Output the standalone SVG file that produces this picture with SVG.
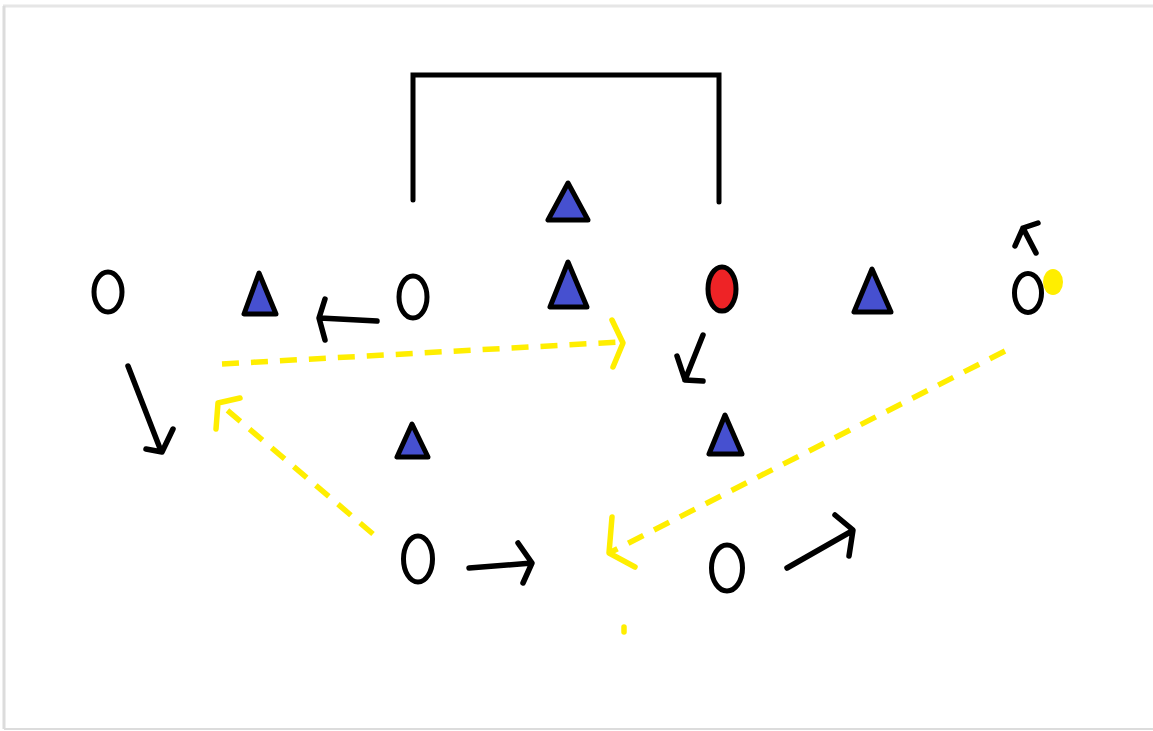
<svg xmlns="http://www.w3.org/2000/svg" width="1153" height="731" viewBox="0 0 1153 731">
<style>
.tri{fill:#4650d0;stroke:#000;stroke-width:5;stroke-linejoin:round}
.ply{fill:#fff;stroke:#000;stroke-width:5}
.red{fill:#ee2326;stroke:#000;stroke-width:5}
.mv{fill:none;stroke:#000;stroke-width:5.5;stroke-linecap:round;stroke-linejoin:round}
.ps{fill:none;stroke:#ffee00;stroke-width:5.5;stroke-dasharray:17 12}
.ph{fill:none;stroke:#ffee00;stroke-width:5.5;stroke-linecap:round;stroke-linejoin:round}
.goal{fill:none;stroke:#000;stroke-width:5;stroke-linecap:round}
</style>
<rect width="1153" height="731" fill="#fff"/>
<g id="frame">
<line x1="3" y1="6" x2="1153" y2="6" stroke="#e6e6e6" stroke-width="3"/>
<line x1="4" y1="6" x2="4" y2="729" stroke="#dcdcdc" stroke-width="3"/>
<line x1="4" y1="729" x2="1153" y2="729" stroke="#dcdcdc" stroke-width="2"/>
</g>
<g id="goal"><polyline class="goal" points="413,200 413,75 719,75 719,202"/></g>
<g id="t1"><polygon class="tri" points="568,183 548,220 588,220"/></g>
<g id="t2"><polygon class="tri" points="568,262 550,307 587,307"/></g>
<g id="t3"><polygon class="tri" points="259,273 244,314 276,314"/></g>
<g id="t4"><polygon class="tri" points="412,424 397,457 428,457"/></g>
<g id="t5"><polygon class="tri" points="725,415 709,454 742,454"/></g>
<g id="t6"><polygon class="tri" points="872,269 854,312 891,312"/></g>
<g id="o1"><ellipse class="ply" cx="108" cy="292" rx="14" ry="20"/></g>
<g id="o2"><ellipse class="ply" cx="413" cy="297" rx="14" ry="21"/></g>
<g id="red"><ellipse class="red" cx="722" cy="289" rx="14" ry="22"/></g>
<g id="ball"><ellipse cx="1053" cy="282" rx="10" ry="13" fill="#ffee00"/></g>
<g id="o3"><ellipse class="ply" cx="1028" cy="293" rx="13.5" ry="19.5"/></g>
<g id="o4"><ellipse class="ply" cx="418" cy="559" rx="14.5" ry="23"/></g>
<g id="o5"><ellipse class="ply" cx="727" cy="568" rx="15.5" ry="23"/></g>
<g id="connectors">
<path class="mv" d="M377,321 L320,318 M325,299 L319,318 L325,340"/>
<path class="mv" d="M128,366 L161,451 M173,429 L162,452 L146,449"/>
<path class="mv" d="M703,335 L685,380 M677,356 L685,380 L703,381"/>
<path class="mv" d="M1036,253 L1023,228 M1015,246 L1023,228 L1038,223"/>
<path class="mv" d="M469,568 L532,563 M518,543 L532,563 L523,583"/>
<path class="mv" d="M787,568 L852,531 M835,515 L853,530 L849,556"/>
<path class="ps" d="M222,364 L620,342"/>
<path class="ph" d="M612,320 L623,343 L613,367"/>
<path class="ps" d="M373,534 L220,404"/>
<path class="ph" d="M240,398 L218,403 L216,429"/>
<path class="ps" d="M1005,351 L611,552"/>
<path class="ph" d="M612,517 L609,553 L635,567"/>
<path class="ph" d="M624,627 L624,632"/>
</g>
</svg>
